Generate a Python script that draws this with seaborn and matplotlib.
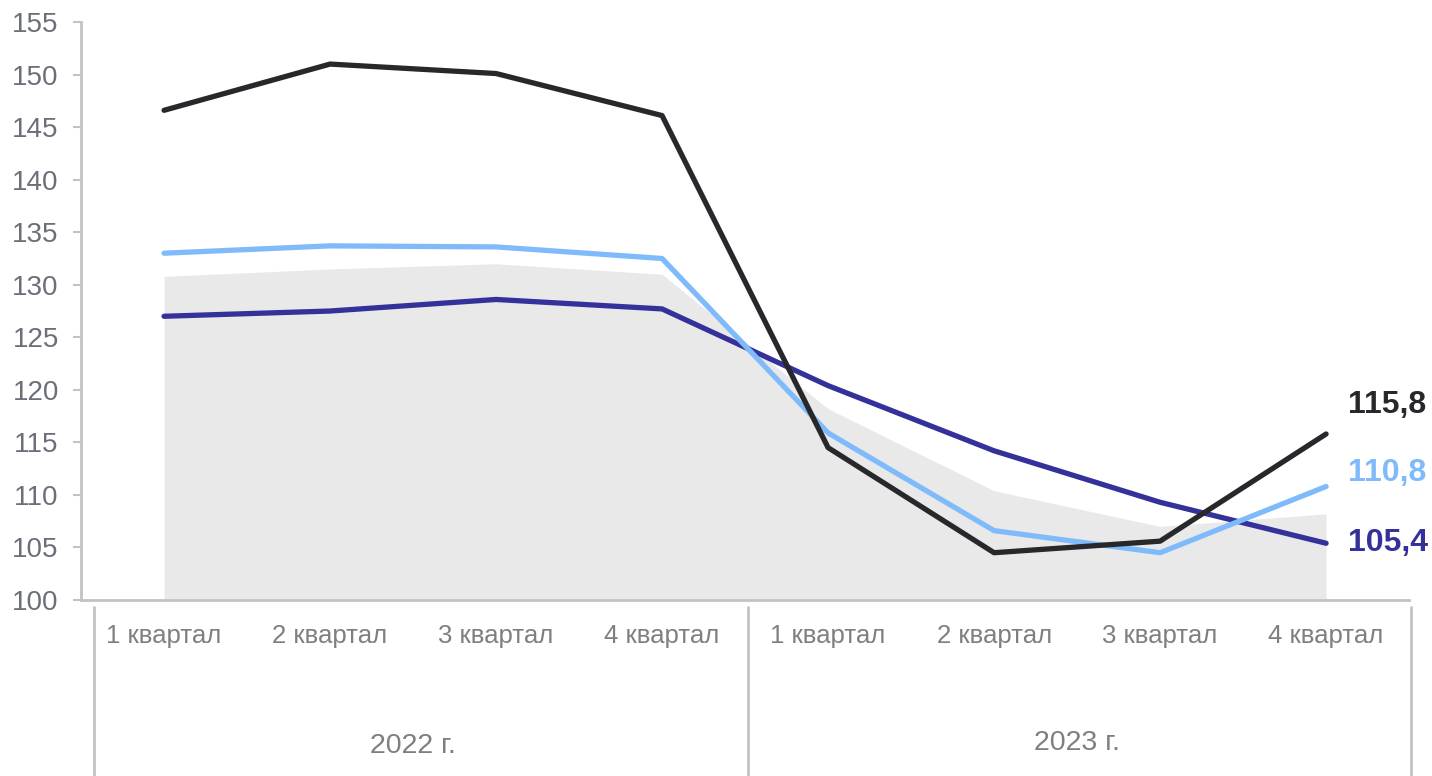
import matplotlib
matplotlib.use("Agg")
import matplotlib.pyplot as plt
import matplotlib.transforms as mtransforms
import seaborn as sns
import pandas as pd

quarters = ['1 квартал', '2 квартал', '3 квартал', '4 квартал',
            '1 квартал', '2 квартал', '3 квартал', '4 квартал']
years = ['2022 г.', '2023 г.']

area_gray = [130.8, 131.5, 132.0, 131.0, 118.2, 110.4, 107.0, 108.2]
line_navy = [127.0, 127.5, 128.6, 127.7, 120.4, 114.2, 109.3, 105.4]
line_blue = [133.0, 133.7, 133.6, 132.5, 115.9, 106.6, 104.5, 110.8]
line_black = [146.6, 151.0, 150.1, 146.1, 114.5, 104.5, 105.6, 115.8]

# label positions for last values
label_y = {'black': 118.6, 'blue': 112.1, 'navy': 105.4}

c_navy = '#35319a'
c_blue = '#7fbbfb'
c_black = '#27282b'
c_gray = '#e9e9e9'
c_axis = '#c3c3c3'

sns.set_style("white")
plt.rcParams['font.family'] = ['Liberation Sans', 'DejaVu Sans']

x = list(range(len(quarters)))
df = pd.DataFrame({'x': x, 'gray': area_gray, 'navy': line_navy,
                   'blue': line_blue, 'black': line_black})

fig = plt.figure(figsize=(14.32, 7.76), dpi=100)
ax = fig.add_axes([0.0566, 0.2268, 0.9274, 0.7448])

ax.fill_between(df['x'], 100, df['gray'], color=c_gray, linewidth=0, zorder=1)
sns.lineplot(data=df, x='x', y='navy', color=c_navy, linewidth=3.8, ax=ax, zorder=3)
sns.lineplot(data=df, x='x', y='blue', color=c_blue, linewidth=3.8, ax=ax, zorder=4)
sns.lineplot(data=df, x='x', y='black', color=c_black, linewidth=3.8, ax=ax, zorder=5)

ax.set_xlim(-0.5, 7.5)
ax.set_ylim(100, 155)
ax.set_yticks(range(100, 156, 5))
ax.set_xlabel('')
ax.set_ylabel('')

for s in ['top', 'right']:
    ax.spines[s].set_visible(False)
for s in ['left', 'bottom']:
    ax.spines[s].set_color(c_axis)
    ax.spines[s].set_linewidth(2)

ax.tick_params(axis='y', left=True, length=6, width=1.5, color=c_axis,
               labelsize=20, labelcolor='#6c6f7a', pad=10)
ax.set_xticks(x)
ax.set_xticklabels(quarters)
ax.tick_params(axis='x', bottom=False, labelsize=18.5, labelcolor='#7f7f7f', pad=14)

# year group labels and separators under the axis
trans = mtransforms.blended_transform_factory(ax.transData, ax.transAxes)
for sx in [-0.42, 3.52, 7.51]:
    ax.plot([sx, sx], [-0.012, -0.31], transform=trans, color=c_axis,
            linewidth=2, clip_on=False)
for i, yr in enumerate(years):
    ax.text(1.5 + 4 * i, -0.253 + 0.006 * i, yr, transform=trans, ha='center',
            va='center', fontsize=20.5, color='#7f7f7f')

# end value labels
last = len(x) - 1
ax.text(last + 0.13, label_y['black'], f"{line_black[-1]:.1f}".replace('.', ','),
        color=c_black, fontsize=23, fontweight='bold', va='center', ha='left')
ax.text(last + 0.13, label_y['blue'], f"{line_blue[-1]:.1f}".replace('.', ','),
        color=c_blue, fontsize=23, fontweight='bold', va='center', ha='left')
ax.text(last + 0.13, label_y['navy'], f"{line_navy[-1]:.1f}".replace('.', ','),
        color=c_navy, fontsize=23, fontweight='bold', va='center', ha='left')

fig.savefig('out.png', dpi=100)
